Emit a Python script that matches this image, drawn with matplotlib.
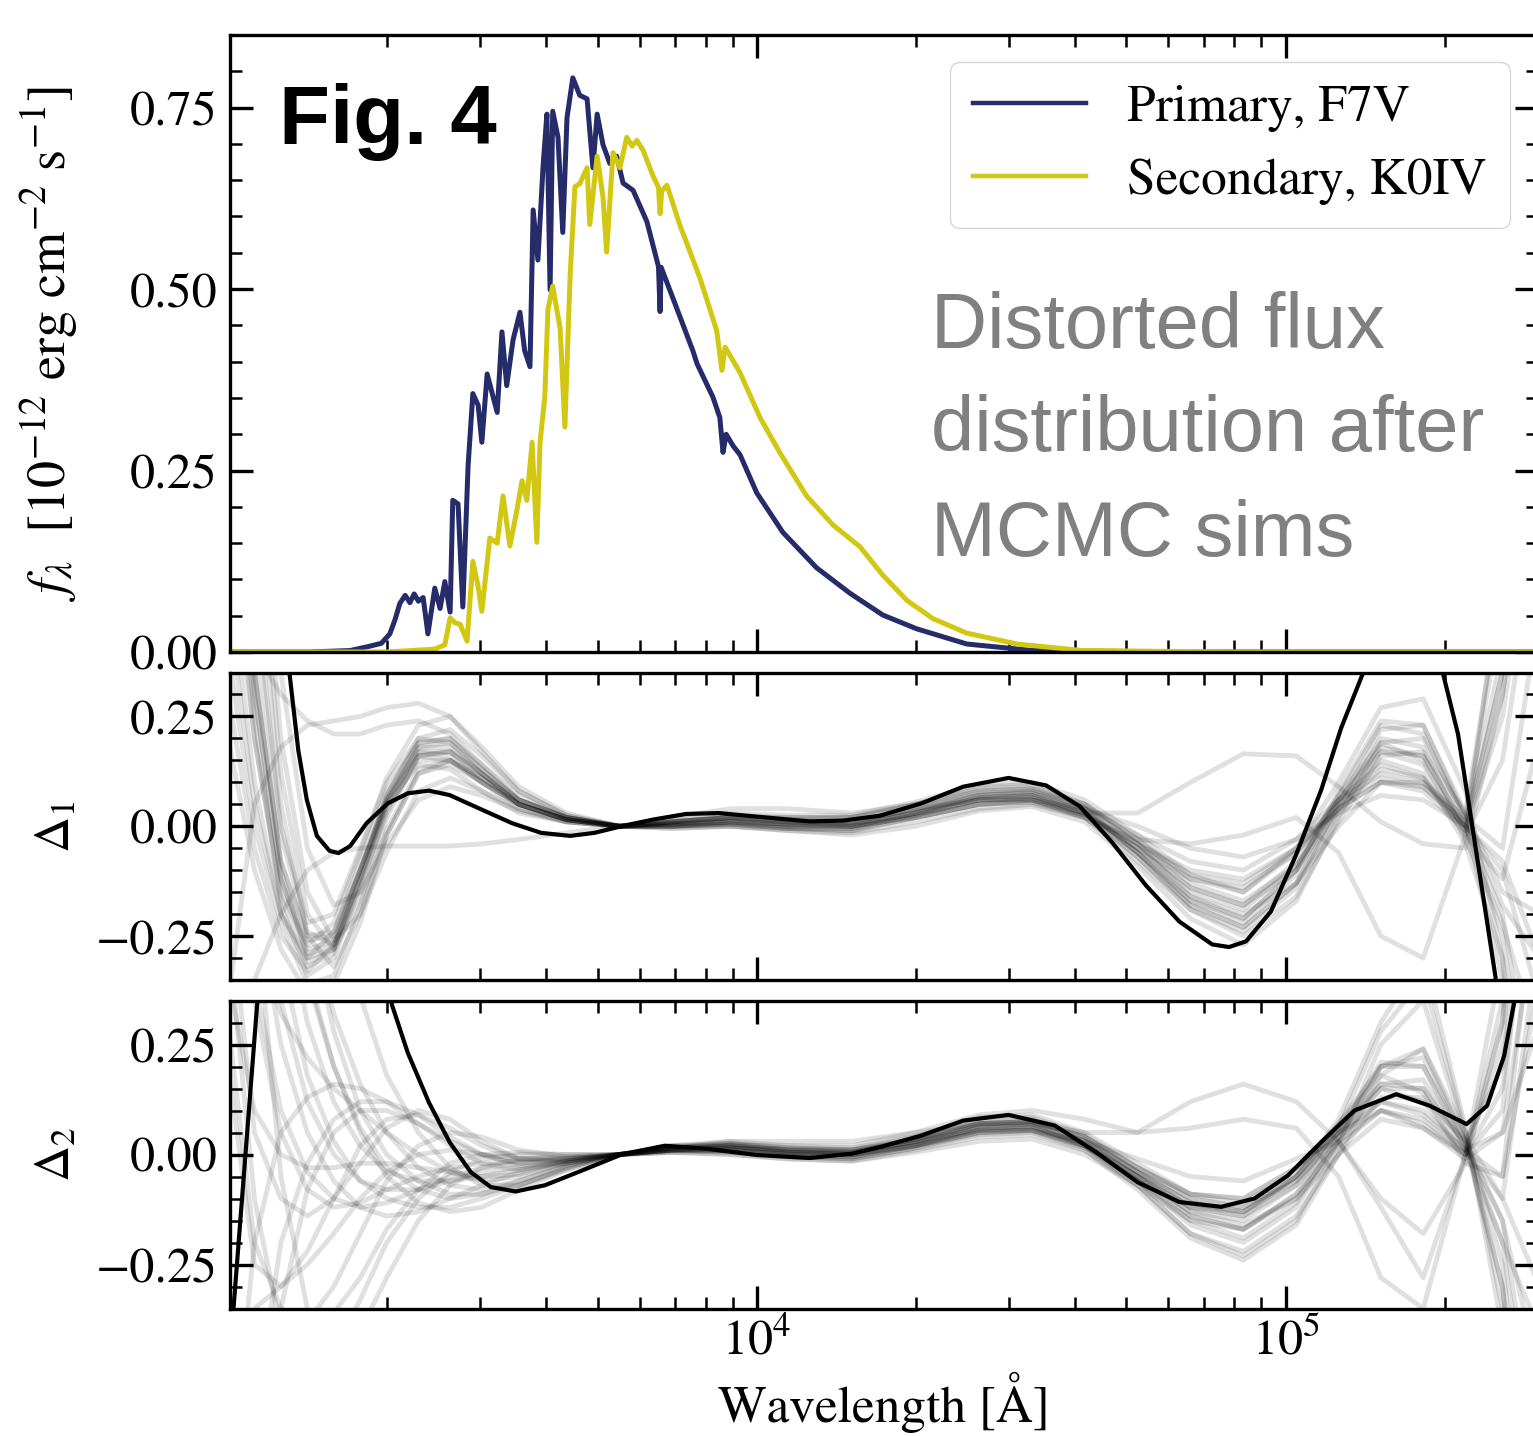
import numpy as np
import matplotlib
matplotlib.use("Agg")
import matplotlib.pyplot as plt
from matplotlib.ticker import MultipleLocator, LogLocator, NullFormatter

plt.rcParams['font.family'] = ['STIXGeneral', 'DejaVu Serif']
plt.rcParams['mathtext.fontset'] = 'stix'

# ---------------- data ----------------
series_labels = ['Primary, F7V', 'Secondary, K0IV']

primary_logwl = [3.000, 3.150, 3.231, 3.268, 3.290, 3.306, 3.316, 3.325, 3.335, 3.344,
                 3.352, 3.360, 3.369, 3.378, 3.391, 3.401, 3.410, 3.420, 3.425, 3.435,
                 3.444, 3.454, 3.463, 3.473, 3.480, 3.490, 3.509, 3.518, 3.527, 3.539,
                 3.552, 3.561, 3.571, 3.577, 3.586, 3.596, 3.603, 3.609, 3.614, 3.624,
                 3.633, 3.641, 3.652, 3.665, 3.679, 3.690, 3.698, 3.709, 3.722, 3.735,
                 3.747, 3.766, 3.792, 3.814, 3.817, 3.819, 3.841, 3.879, 3.887, 3.917,
                 3.930, 3.936, 3.942, 3.955, 3.968, 4.000, 4.049, 4.113, 4.176, 4.238,
                 4.302, 4.397, 4.522, 4.800, 5.480]
primary_flux = [0.000, 0.000, 0.002, 0.008, 0.012, 0.025, 0.045, 0.067, 0.078, 0.068,
                0.080, 0.070, 0.075, 0.025, 0.088, 0.060, 0.097, 0.055, 0.209, 0.204,
                0.062, 0.257, 0.356, 0.340, 0.289, 0.383, 0.330, 0.441, 0.367, 0.430,
                0.468, 0.415, 0.393, 0.609, 0.540, 0.672, 0.741, 0.499, 0.745, 0.709,
                0.578, 0.736, 0.791, 0.767, 0.762, 0.667, 0.741, 0.699, 0.673, 0.683,
                0.646, 0.636, 0.593, 0.531, 0.469, 0.530, 0.488, 0.415, 0.397, 0.351,
                0.323, 0.275, 0.300, 0.284, 0.272, 0.219, 0.165, 0.116, 0.081, 0.051,
                0.032, 0.011, 0.002, 0.000, 0.000]

secondary_logwl = [3.000, 3.300, 3.391, 3.410, 3.420, 3.430, 3.439, 3.452, 3.463, 3.473,
                   3.480, 3.495, 3.509, 3.520, 3.533, 3.546, 3.556, 3.565, 3.575, 3.584,
                   3.590, 3.599, 3.605, 3.614, 3.628, 3.637, 3.647, 3.656, 3.665, 3.679,
                   3.684, 3.698, 3.709, 3.716, 3.728, 3.741, 3.754, 3.764, 3.773, 3.785,
                   3.803, 3.814, 3.817, 3.820, 3.830, 3.854, 3.892, 3.924, 3.934, 3.940,
                   3.968, 4.006, 4.044, 4.094, 4.144, 4.195, 4.238, 4.284, 4.333, 4.397,
                   4.492, 4.616, 4.900, 5.480]
secondary_flux = [0.000, 0.000, 0.004, 0.010, 0.047, 0.040, 0.038, 0.015, 0.125, 0.090,
                  0.056, 0.157, 0.150, 0.215, 0.146, 0.194, 0.236, 0.209, 0.289, 0.151,
                  0.289, 0.351, 0.472, 0.504, 0.446, 0.310, 0.520, 0.641, 0.645, 0.667,
                  0.589, 0.683, 0.627, 0.551, 0.688, 0.667, 0.709, 0.697, 0.705, 0.691,
                  0.657, 0.640, 0.604, 0.635, 0.643, 0.589, 0.516, 0.443, 0.388, 0.420,
                  0.385, 0.323, 0.274, 0.215, 0.175, 0.145, 0.106, 0.071, 0.046, 0.026,
                  0.011, 0.002, 0.000, 0.000]

# best-fit distortion curves
delta1_best_logwl = [3.000, 3.025, 3.050, 3.075, 3.100, 3.117, 3.133, 3.149, 3.168, 3.192,
                     3.209, 3.231, 3.262, 3.302, 3.340, 3.380, 3.419, 3.474, 3.537, 3.592,
                     3.647, 3.693, 3.744, 3.803, 3.866, 3.928, 3.999, 4.100, 4.164, 4.233,
                     4.311, 4.390, 4.476, 4.547, 4.611, 4.672, 4.736, 4.799, 4.861, 4.893,
                     4.925, 4.972, 5.019, 5.067, 5.105, 5.145, 5.180, 5.220, 5.260, 5.298,
                     5.326, 5.350, 5.374, 5.397, 5.440, 5.480]
delta1_best = [2.50, 1.60, 1.10, 0.75, 0.48, 0.34, 0.172, 0.060, -0.022, -0.056,
               -0.061, -0.045, 0.007, 0.052, 0.075, 0.081, 0.071, 0.041, 0.007, -0.015,
               -0.022, -0.015, 0.000, 0.015, 0.028, 0.030, 0.022, 0.011, 0.013, 0.024,
               0.052, 0.090, 0.110, 0.093, 0.045, -0.037, -0.135, -0.217, -0.269, -0.275,
               -0.262, -0.194, -0.067, 0.082, 0.224, 0.345, 0.480, 0.540, 0.460, 0.345,
               0.209, 0.022, -0.164, -0.345, -0.750, -1.200]

delta2_best_logwl = [3.000, 3.011, 3.033, 3.055, 3.080, 3.120, 3.170, 3.220, 3.260, 3.288,
                     3.310, 3.340, 3.380, 3.419, 3.459, 3.497, 3.544, 3.599, 3.662, 3.744,
                     3.826, 3.905, 3.999, 4.100, 4.180, 4.233, 4.311, 4.390, 4.476, 4.563,
                     4.642, 4.720, 4.799, 4.878, 4.941, 5.004, 5.067, 5.130, 5.209, 5.272,
                     5.342, 5.381, 5.413, 5.432, 5.460, 5.480]
delta2_best = [-0.52, -0.34, 0.00, 0.34, 0.65, 0.95, 1.05, 0.92, 0.65, 0.47,
               0.34, 0.231, 0.118, 0.028, -0.040, -0.074, -0.084, -0.070, -0.040, 0.000,
               0.020, 0.013, -0.001, -0.008, 0.002, 0.017, 0.043, 0.077, 0.090, 0.066,
               0.005, -0.063, -0.108, -0.119, -0.100, -0.048, 0.028, 0.100, 0.137, 0.111,
               0.069, 0.111, 0.224, 0.345, 0.600, 0.800]

# MCMC sample curves, all on one wavelength grid
delta_grid_logwl = [3.00, 3.05, 3.10, 3.15, 3.20, 3.25, 3.30, 3.36, 3.42, 3.48, 3.55,
                    3.64, 3.74, 3.84, 3.95, 4.06, 4.18, 4.30, 4.42, 4.52, 4.62, 4.72,
                    4.82, 4.92, 5.02, 5.10, 5.18, 5.26, 5.34, 5.41, 5.48]

delta1_samples = [
    [1.20, 0.40, -0.10, -0.30, -0.28, -0.12, 0.06, 0.17, 0.16, 0.10, 0.04, 0.010, 0.00, 0.010, 0.020, 0.010, 0.010, 0.040, 0.080, 0.085, 0.040, -0.060, -0.170, -0.220, -0.110, 0.060, 0.180, 0.160, 0.000, -0.250, -0.800],
    [0.90, 0.25, -0.18, -0.34, -0.30, -0.14, 0.04, 0.15, 0.15, 0.10, 0.05, 0.015, 0.00, 0.000, 0.005, -0.005, -0.010, 0.020, 0.050, 0.060, 0.020, -0.080, -0.190, -0.240, -0.140, 0.040, 0.200, 0.180, -0.020, 0.150, 0.700],
    [0.60, 0.10, -0.20, -0.30, -0.24, -0.08, 0.08, 0.19, 0.20, 0.14, 0.06, 0.020, 0.00, 0.005, 0.010, 0.000, 0.000, 0.030, 0.065, 0.070, 0.030, -0.040, -0.110, -0.130, -0.050, 0.050, 0.110, 0.090, 0.010, 0.400, 1.100],
    [1.60, 0.70, 0.05, -0.25, -0.32, -0.20, -0.02, 0.12, 0.14, 0.10, 0.05, 0.015, 0.00, 0.010, 0.020, 0.015, 0.010, 0.040, 0.075, 0.080, 0.045, -0.040, -0.140, -0.180, -0.080, 0.070, 0.190, 0.150, -0.030, -0.220, -0.500],
    [0.30, -0.05, -0.25, -0.33, -0.27, -0.10, 0.07, 0.20, 0.22, 0.16, 0.08, 0.025, 0.00, -0.005, 0.000, -0.010, -0.015, 0.010, 0.040, 0.050, 0.020, -0.060, -0.160, -0.200, -0.130, 0.000, 0.100, 0.100, 0.020, 0.500, 1.300],
    [2.00, 0.90, 0.20, -0.15, -0.26, -0.20, -0.06, 0.08, 0.11, 0.08, 0.04, 0.010, 0.00, 0.010, 0.025, 0.020, 0.020, 0.050, 0.090, 0.095, 0.050, -0.040, -0.160, -0.210, -0.100, 0.080, 0.240, 0.230, 0.030, -0.150, -0.200],
    [0.80, 0.20, -0.15, -0.27, -0.22, -0.06, 0.11, 0.23, 0.25, 0.18, 0.09, 0.030, 0.00, 0.000, 0.005, -0.005, -0.005, 0.025, 0.060, 0.065, 0.030, -0.050, -0.150, -0.190, -0.090, 0.060, 0.170, 0.140, -0.010, 0.300, 0.900],
    [0.60, 0.40, 0.30, 0.24, 0.21, 0.21, 0.23, 0.24, 0.21, 0.14, 0.07, 0.020, 0.00, 0.010, 0.020, 0.010, 0.000, 0.020, 0.050, 0.060, 0.040, 0.000, -0.050, -0.070, -0.030, 0.030, 0.070, 0.060, 0.000, -0.100, -0.400],
    [-0.60, -0.35, -0.20, -0.10, -0.06, -0.05, -0.045, -0.045, -0.045, -0.040, -0.030, -0.015, 0.00, 0.020, 0.040, 0.040, 0.030, 0.050, 0.080, 0.085, 0.050, -0.030, -0.120, -0.150, -0.060, 0.060, 0.140, 0.110, 0.000, -0.200, -0.700],
    [1.00, 0.35, -0.08, -0.26, -0.25, -0.10, 0.06, 0.16, 0.15, 0.10, 0.05, 0.015, 0.00, 0.010, 0.020, 0.020, 0.020, 0.040, 0.060, 0.060, 0.030, 0.030, 0.100, 0.165, 0.160, 0.090, 0.010, -0.040, -0.050, 0.300, 0.900],
    [1.00, 0.30, -0.12, -0.28, -0.26, -0.10, 0.06, 0.18, 0.18, 0.12, 0.05, 0.015, 0.00, 0.005, 0.015, 0.005, 0.005, 0.035, 0.070, 0.075, 0.035, -0.060, -0.170, -0.210, -0.100, 0.070, 0.230, 0.210, 0.010, -0.350, -1.200],
    [0.40, 0.00, -0.22, -0.36, -0.34, -0.18, 0.02, 0.16, 0.17, 0.12, 0.06, 0.020, 0.00, 0.000, 0.000, -0.010, -0.020, 0.000, 0.035, 0.045, 0.010, -0.090, -0.210, -0.270, -0.170, 0.020, 0.190, 0.200, 0.020, -0.050, 0.500],
    [1.40, 0.55, 0.00, -0.22, -0.20, -0.05, 0.10, 0.20, 0.19, 0.12, 0.05, 0.015, 0.00, 0.010, 0.020, 0.010, 0.010, 0.040, 0.070, 0.075, 0.040, -0.020, -0.080, -0.100, -0.030, 0.060, 0.120, 0.100, 0.000, 0.350, 1.000],
    [0.20, -0.10, -0.28, -0.38, -0.36, -0.22, -0.02, 0.12, 0.15, 0.11, 0.06, 0.020, 0.00, -0.005, 0.000, -0.005, -0.010, 0.020, 0.050, 0.055, 0.020, -0.070, -0.180, -0.230, -0.130, 0.030, 0.170, 0.160, 0.000, 0.350, 1.200],
    [2.50, 1.20, 0.35, -0.05, -0.18, -0.15, -0.04, 0.06, 0.09, 0.07, 0.035, 0.010, 0.00, 0.015, 0.030, 0.025, 0.025, 0.055, 0.095, 0.100, 0.060, -0.020, -0.110, -0.150, -0.050, 0.100, 0.270, 0.290, 0.080, -0.300, -1.500],
    [0.70, 0.20, -0.16, -0.31, -0.28, -0.11, 0.07, 0.19, 0.20, 0.13, 0.06, 0.020, 0.00, 0.000, 0.010, 0.000, -0.005, 0.025, 0.060, 0.070, 0.030, -0.070, -0.190, -0.250, -0.160, 0.010, 0.160, 0.170, 0.030, 0.550, 1.500],
    [1.10, 0.35, -0.08, -0.25, -0.24, -0.10, 0.05, 0.14, 0.13, 0.08, 0.03, 0.010, 0.00, 0.010, 0.020, 0.015, 0.020, 0.050, 0.085, 0.090, 0.050, -0.030, -0.130, -0.170, -0.090, 0.050, 0.150, 0.120, -0.040, -0.300, -0.900],
    [0.50, 0.05, -0.20, -0.32, -0.29, -0.13, 0.05, 0.18, 0.19, 0.13, 0.06, 0.020, 0.00, 0.005, 0.010, 0.005, 0.000, 0.030, 0.060, 0.065, 0.025, -0.050, -0.120, -0.140, -0.060, 0.040, 0.100, 0.080, -0.010, 0.250, 0.800],
    [1.80, 0.80, 0.12, -0.20, -0.28, -0.17, -0.01, 0.13, 0.15, 0.11, 0.05, 0.015, 0.00, 0.005, 0.015, 0.010, 0.005, 0.030, 0.065, 0.070, 0.030, -0.050, -0.140, -0.180, -0.100, 0.040, 0.130, 0.110, -0.020, -0.120, 0.200],
    [-0.40, 0.05, 0.18, 0.23, 0.24, 0.25, 0.27, 0.28, 0.25, 0.17, 0.08, 0.025, 0.00, 0.000, 0.010, 0.005, 0.000, 0.020, 0.050, 0.055, 0.025, -0.040, -0.100, -0.120, -0.050, 0.040, 0.100, 0.090, 0.000, -0.080, -0.300],
    [0.90, 0.30, -0.12, -0.29, -0.27, -0.12, 0.05, 0.17, 0.17, 0.11, 0.05, 0.015, 0.00, 0.005, 0.010, 0.005, 0.005, 0.030, 0.060, 0.060, 0.020, -0.030, -0.040, -0.020, 0.020, -0.060, -0.250, -0.300, -0.020, 0.600, 1.500],
    [1.30, 0.50, -0.02, -0.24, -0.27, -0.14, 0.03, 0.16, 0.17, 0.12, 0.05, 0.015, 0.00, 0.000, 0.005, 0.000, 0.000, 0.030, 0.070, 0.080, 0.040, -0.060, -0.180, -0.230, -0.130, 0.050, 0.220, 0.230, 0.020, -0.180, -0.300],
]

delta2_samples = [
    [2.00, 1.20, 0.70, 0.40, 0.20, 0.06, -0.03, -0.08, -0.10, -0.09, -0.06, -0.025, 0.00, 0.015, 0.015, 0.005, 0.000, 0.030, 0.070, 0.075, 0.030, -0.040, -0.100, -0.120, -0.060, 0.040, 0.120, 0.100, 0.010, 0.050, 0.600],
    [1.20, 0.60, 0.25, 0.05, -0.06, -0.12, -0.14, -0.13, -0.10, -0.07, -0.04, -0.015, 0.00, 0.010, 0.010, 0.000, -0.005, 0.020, 0.050, 0.055, 0.015, -0.060, -0.140, -0.170, -0.100, 0.030, 0.150, 0.150, 0.020, -0.150, -0.700],
    [-0.80, -0.20, 0.05, 0.13, 0.16, 0.15, 0.12, 0.07, 0.02, -0.02, -0.035, -0.020, 0.00, 0.020, 0.025, 0.010, 0.005, 0.035, 0.075, 0.080, 0.035, -0.040, -0.110, -0.130, -0.060, 0.050, 0.160, 0.170, 0.020, -0.300, -1.000],
    [0.60, 0.05, -0.10, -0.14, -0.10, -0.02, 0.06, 0.10, 0.08, 0.03, -0.01, -0.015, 0.00, 0.015, 0.020, 0.005, 0.000, 0.025, 0.060, 0.065, 0.020, -0.060, -0.150, -0.190, -0.110, 0.040, 0.200, 0.220, 0.030, -0.200, -0.400],
    [3.00, 1.80, 1.00, 0.55, 0.28, 0.10, 0.00, -0.06, -0.09, -0.09, -0.07, -0.030, 0.00, 0.010, 0.005, -0.005, -0.010, 0.015, 0.045, 0.050, 0.010, -0.070, -0.180, -0.230, -0.150, 0.020, 0.250, 0.350, 0.040, -0.100, 0.500],
    [-1.50, -0.60, -0.20, -0.02, 0.08, 0.12, 0.12, 0.09, 0.04, 0.00, -0.025, -0.020, 0.00, 0.015, 0.020, 0.010, 0.005, 0.030, 0.065, 0.070, 0.030, -0.050, -0.120, -0.140, -0.070, 0.030, 0.100, 0.080, 0.000, 0.100, 0.900],
    [1.60, 0.90, 0.45, 0.18, 0.03, -0.06, -0.10, -0.12, -0.12, -0.10, -0.07, -0.030, 0.00, 0.020, 0.020, 0.010, 0.010, 0.040, 0.085, 0.090, 0.050, -0.020, -0.090, -0.110, -0.040, 0.070, 0.180, 0.140, -0.020, -0.050, 0.400],
    [0.20, -0.25, -0.30, -0.22, -0.10, 0.02, 0.08, 0.09, 0.06, 0.02, -0.01, -0.010, 0.00, 0.010, 0.015, 0.005, 0.000, 0.020, 0.050, 0.055, 0.020, -0.050, -0.130, -0.160, -0.100, 0.000, 0.080, 0.060, 0.000, 0.300, 1.500],
    [2.50, 1.50, 0.90, 0.55, 0.32, 0.16, 0.05, -0.03, -0.07, -0.08, -0.06, -0.025, 0.00, 0.010, 0.010, 0.000, -0.005, 0.020, 0.055, 0.060, 0.025, -0.050, -0.130, -0.150, -0.070, 0.060, 0.280, 0.400, 0.050, -0.250, -1.000],
    [1.00, 0.40, 0.10, -0.04, -0.10, -0.12, -0.11, -0.08, -0.05, -0.03, -0.02, -0.010, 0.00, 0.010, 0.020, 0.020, 0.020, 0.050, 0.090, 0.100, 0.080, 0.050, 0.060, 0.080, 0.060, -0.050, -0.280, -0.350, 0.000, 0.450, 1.300],
    [-0.50, -0.35, -0.30, -0.25, -0.18, -0.10, -0.04, 0.00, 0.01, 0.00, -0.01, -0.010, 0.00, 0.015, 0.025, 0.015, 0.010, 0.035, 0.070, 0.075, 0.040, -0.030, -0.090, -0.100, -0.030, 0.050, 0.120, 0.090, 0.010, -0.100, -0.300],
    [1.40, 0.75, 0.35, 0.12, 0.00, -0.06, -0.08, -0.08, -0.06, -0.04, -0.03, -0.015, 0.00, 0.020, 0.030, 0.020, 0.015, 0.040, 0.080, 0.085, 0.045, -0.030, -0.090, -0.100, -0.030, 0.050, 0.100, 0.060, -0.010, 0.050, 0.300],
    [0.80, 0.50, 0.32, 0.22, 0.15, 0.10, 0.05, 0.00, -0.04, -0.06, -0.05, -0.020, 0.00, 0.005, 0.000, -0.010, -0.015, 0.010, 0.040, 0.045, 0.010, -0.080, -0.190, -0.240, -0.160, 0.000, 0.180, 0.240, 0.050, -0.350, -1.400],
    [-2.00, -0.90, -0.35, -0.08, 0.05, 0.10, 0.10, 0.07, 0.03, 0.00, -0.02, -0.015, 0.00, 0.010, 0.010, 0.000, 0.000, 0.025, 0.060, 0.065, 0.025, -0.050, -0.140, -0.170, -0.090, 0.050, 0.210, 0.200, 0.010, -0.050, 0.700],
    [2.20, 1.30, 0.75, 0.42, 0.20, 0.05, -0.05, -0.11, -0.13, -0.12, -0.08, -0.035, 0.00, 0.015, 0.015, 0.005, 0.005, 0.030, 0.070, 0.075, 0.040, -0.040, -0.120, -0.140, -0.050, 0.080, 0.300, 0.450, 0.060, -0.400, -1.600],
    [0.90, 0.35, 0.05, -0.08, -0.12, -0.11, -0.08, -0.05, -0.03, -0.02, -0.015, -0.010, 0.00, 0.015, 0.030, 0.030, 0.030, 0.050, 0.070, 0.070, 0.050, 0.050, 0.120, 0.160, 0.120, 0.030, -0.100, -0.180, -0.020, 0.300, 1.000],
    [0.40, 0.10, 0.00, -0.03, -0.03, -0.02, -0.02, -0.03, -0.04, -0.05, -0.045, -0.020, 0.00, 0.010, 0.015, 0.005, 0.000, 0.020, 0.060, 0.065, 0.020, -0.070, -0.180, -0.220, -0.140, 0.000, 0.130, 0.130, 0.030, 0.200, 0.900],
    [1.80, 1.10, 0.60, 0.30, 0.12, 0.02, -0.04, -0.06, -0.06, -0.05, -0.035, -0.015, 0.00, 0.005, 0.000, -0.010, -0.015, 0.005, 0.030, 0.035, 0.000, -0.070, -0.150, -0.170, -0.090, 0.020, 0.100, 0.070, 0.000, 0.250, 1.200],
    [3.50, 2.40, 1.60, 1.00, 0.62, 0.36, 0.18, 0.05, -0.03, -0.07, -0.07, -0.035, 0.00, 0.010, 0.005, -0.005, -0.010, 0.015, 0.050, 0.055, 0.020, -0.050, -0.120, -0.130, -0.050, 0.070, 0.200, 0.200, 0.030, -0.150, -0.500],
    [0.30, -0.20, -0.35, -0.38, -0.30, -0.18, -0.06, 0.02, 0.05, 0.04, 0.01, -0.005, 0.00, 0.010, 0.015, 0.010, 0.010, 0.030, 0.055, 0.055, 0.030, -0.010, -0.050, -0.060, -0.010, 0.030, -0.120, -0.280, 0.000, 0.350, 1.100],
    [0.50, -0.10, -0.40, -0.50, -0.45, -0.33, -0.20, -0.10, -0.04, -0.01, 0.00, 0.000, 0.00, 0.010, 0.020, 0.010, 0.005, 0.030, 0.065, 0.070, 0.030, -0.040, -0.110, -0.130, -0.050, 0.060, 0.160, 0.150, 0.010, -0.200, -0.800],
    [1.50, 0.60, -0.05, -0.35, -0.45, -0.40, -0.28, -0.15, -0.07, -0.03, -0.01, -0.005, 0.00, 0.015, 0.025, 0.015, 0.010, 0.035, 0.070, 0.075, 0.040, -0.030, -0.100, -0.120, -0.050, 0.050, 0.150, 0.120, 0.000, 0.150, 0.800],
    [-1.00, -0.60, -0.45, -0.40, -0.36, -0.28, -0.17, -0.08, -0.02, 0.00, 0.005, 0.000, 0.00, 0.005, 0.010, 0.000, -0.005, 0.020, 0.055, 0.060, 0.020, -0.060, -0.160, -0.200, -0.120, 0.030, 0.200, 0.240, 0.030, -0.300, -1.200],
]

# ---------------- figure ----------------
W, H = 1533, 1436
fig = plt.figure(figsize=(W / 100, H / 100), dpi=100)

x_left, x_right = 230.3, 1538.0
def px_axes(top, bottom):
    return [x_left / W, 1 - bottom / H, (x_right - x_left) / W, (bottom - top) / H]

ax0 = fig.add_axes(px_axes(35, 652))
ax1 = fig.add_axes(px_axes(672.5, 980))
ax2 = fig.add_axes(px_axes(1000.5, 1308.5))

navy = '#262c69'
yellow = '#d2c814'
fs = 36

for ax in (ax0, ax1, ax2):
    ax.set_xscale('log')
    ax.set_xlim(1010, 3.0e5)
    ax.xaxis.set_major_locator(LogLocator(base=10, numticks=12))
    ax.xaxis.set_minor_locator(LogLocator(base=10, subs=np.arange(2, 10), numticks=12))
    ax.xaxis.set_minor_formatter(NullFormatter())
    ax.tick_params(which='both', direction='in', top=True, right=True, labelsize=fs)
    ax.tick_params(which='major', length=16.5, width=2.4)
    ax.tick_params(which='minor', length=8.5, width=1.8)
    ax.tick_params(axis='y', pad=9)
    ax.tick_params(axis='x', pad=7)
    for s in ax.spines.values():
        s.set_linewidth(2.4)

# top panel: spectra
ax0.plot(10 ** np.array(primary_logwl), primary_flux, color=navy, lw=3.6, label=series_labels[0])
ax0.plot(10 ** np.array(secondary_logwl), secondary_flux, color=yellow, lw=3.6, label=series_labels[1])
ax0.set_ylim(0, 0.85)
ax0.yaxis.set_major_locator(MultipleLocator(0.25))
ax0.yaxis.set_minor_locator(MultipleLocator(0.05))
ax0.tick_params(labelbottom=False)
ax0.set_ylabel(r'$f_\lambda\ \ [10^{-12}\ \mathrm{erg\ cm^{-2}\ s^{-1}}]$', fontsize=39)

leg = ax0.legend(loc='upper right', bbox_to_anchor=(1510 / W, 1 - 62 / H),
                 bbox_transform=fig.transFigure, borderaxespad=0, fontsize=37,
                 handlelength=2.2, handletextpad=0.8, labelspacing=0.5, borderpad=0.45)
for line in leg.get_lines():
    line.set_linewidth(3.2)

# distortion panels
grid_wl = 10 ** np.array(delta_grid_logwl)
for ax, samples, best_lw, best, lab in (
        (ax1, delta1_samples, delta1_best_logwl, delta1_best, r'$\Delta_1$'),
        (ax2, delta2_samples, delta2_best_logwl, delta2_best, r'$\Delta_2$')):
    for s in samples:
        ax.plot(grid_wl, s, color='k', alpha=0.12, lw=3.5, zorder=1)
    ax.plot(10 ** np.array(best_lw), best, color='k', lw=3.0, zorder=3)
    ax.set_ylim(-0.35, 0.35)
    ax.yaxis.set_major_locator(MultipleLocator(0.25))
    ax.yaxis.set_minor_locator(MultipleLocator(0.05))
    ax.set_ylabel(lab, fontsize=fs)

ax1.tick_params(labelbottom=False)

for ax in (ax0, ax1, ax2):
    ax.yaxis.set_label_coords(-0.1145, 0.5)

# annotations
fig.text(279 / W, 1 - 144 / H, 'Fig. 4', fontsize=60, fontweight='bold',
         family='Liberation Sans', ha='left', va='baseline')
for txt, yb in (('Distorted flux', 348), ('distribution after', 451), ('MCMC sims', 556)):
    fig.text(931 / W, 1 - yb / H, txt, fontsize=56, color='#808080',
             family='Liberation Sans', ha='left', va='baseline')

fig.text((x_left + x_right) / 2 / W, 1 - 1422 / H, 'Wavelength [Å]', fontsize=37,
         ha='center', va='baseline')

fig.savefig('out.png', dpi=100)
